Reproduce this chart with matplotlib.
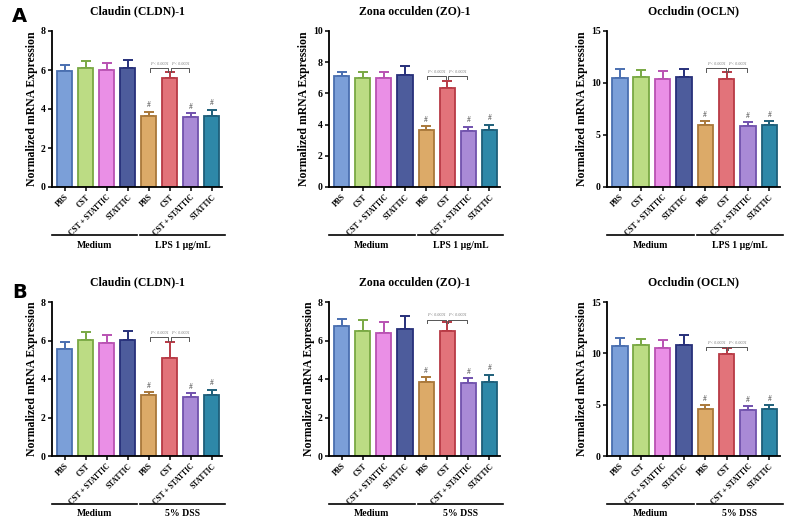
import numpy as np
import matplotlib
matplotlib.use("Agg")
import matplotlib.pyplot as plt
import matplotlib.transforms as mtransforms

plt.rcParams['font.family'] = ['Liberation Serif', 'DejaVu Serif']

# categories and group labels
conditions = ['PBS', 'CST', 'CST + STATTIC', 'STATTIC', 'PBS', 'CST', 'CST + STATTIC', 'STATTIC']
groups_A = ['Medium', 'LPS 1 μg/mL']
groups_B = ['Medium', '5% DSS']
titles = ['Claudin (CLDN)-1', 'Zona occulden (ZO)-1', 'Occludin (OCLN)']

# means and upper error bar ends (row A: LPS, row B: DSS)
cldn_A = [5.94, 6.10, 5.98, 6.10, 3.65, 5.57, 3.58, 3.66]
cldn_A_top = [6.28, 6.47, 6.37, 6.50, 3.87, 5.89, 3.80, 3.97]
zo_A = [7.10, 7.00, 7.00, 7.17, 3.66, 6.36, 3.60, 3.68]
zo_A_top = [7.39, 7.39, 7.39, 7.73, 3.92, 6.80, 3.86, 4.00]
ocln_A = [10.50, 10.60, 10.37, 10.60, 6.00, 10.43, 5.86, 6.00]
ocln_A_top = [11.34, 11.27, 11.14, 11.34, 6.35, 11.10, 6.25, 6.35]

cldn_B = [5.56, 6.02, 5.88, 6.04, 3.16, 5.09, 3.09, 3.19]
cldn_B_top = [5.92, 6.42, 6.28, 6.49, 3.33, 5.90, 3.26, 3.44]
zo_B = [6.77, 6.49, 6.37, 6.58, 3.85, 6.48, 3.78, 3.87]
zo_B_top = [7.12, 7.07, 6.94, 7.29, 4.11, 6.94, 4.05, 4.22]
ocln_B = [10.67, 10.77, 10.48, 10.77, 4.59, 9.93, 4.46, 4.59]
ocln_B_top = [11.45, 11.36, 11.29, 11.81, 4.95, 10.51, 4.85, 4.95]

# y-axis limits / ticks and bracket heights
ymax_A = [8, 10, 15]
ymax_B = [8, 8, 15]
ystep = [2, 2, 5]
bracket_A = [6.08, 7.12, 11.4]
bracket_B = [6.16, 7.08, 10.6]

face = ['#7b9fd8', '#bcdc84', '#ea8fe6', '#4d5c9c', '#dcaa68', '#e2737a', '#a98ad6', '#2e88a8']
edge = ['#4a6fb0', '#79a843', '#b952b2', '#27307a', '#a9783a', '#b83a45', '#7152ad', '#1e5f7a']

fig = plt.figure(figsize=(7.88, 5.21), dpi=100)

lefts = [52 / 788, 329 / 788, 607 / 788]
widths = [170 / 788, 171 / 788, 173 / 788]
bottoms = [(521 - 187) / 521, (521 - 456) / 521]
heights = [156 / 521, 154 / 521]

rows = [
    ([cldn_A, zo_A, ocln_A], [cldn_A_top, zo_A_top, ocln_A_top], bracket_A, groups_A, ymax_A),
    ([cldn_B, zo_B, ocln_B], [cldn_B_top, zo_B_top, ocln_B_top], bracket_B, groups_B, ymax_B),
]

x = np.arange(len(conditions))

for r, (vals_row, tops_row, brackets, grp, ymax) in enumerate(rows):
    for c in range(3):
        ax = fig.add_axes([lefts[c], bottoms[r], widths[c], heights[r]])
        vals = np.array(vals_row[c])
        tops = np.array(tops_row[c])
        ax.bar(x, vals, width=0.72, color=face, edgecolor=edge, linewidth=1.3, zorder=2)
        for i in range(len(x)):
            ax.errorbar(x[i], vals[i], yerr=[[0], [tops[i] - vals[i]]], fmt='none',
                        ecolor=edge[i], elinewidth=1.4, capsize=3.5, capthick=1.4, zorder=1)
        # significance marks
        span = ymax[c]
        for i in [4, 6, 7]:
            ax.text(x[i], tops[i] + 0.015 * span, '#', ha='center', va='bottom',
                    fontsize=5.5, color='#444444')
        by = brackets[c]
        tick = 0.02 * span
        for a, b in [(4, 5), (5, 6)]:
            xa, xb = x[a] + 0.05, x[b] - 0.05
            ax.plot([xa, xa, xb, xb], [by - tick, by, by, by - tick], color='#555555', lw=0.7,
                    clip_on=False)
            ax.text((xa + xb) / 2, by + 0.015 * span, 'P < 0.0001', ha='center', va='bottom',
                    fontsize=3, style='italic', color='#777777')

        ax.set_xlim(-0.6, 7.5)
        ax.set_ylim(0, ymax[c])
        ax.set_yticks(np.arange(0, ymax[c] + 0.1, ystep[c]))
        ax.set_xticks(x)
        ax.set_xticklabels(conditions, rotation=45, ha='right', rotation_mode='anchor',
                           fontsize=5.5, fontweight='bold')
        for lab in ax.get_yticklabels():
            lab.set_fontsize(7)
            lab.set_fontweight('bold')
        ax.spines['top'].set_visible(False)
        ax.spines['right'].set_visible(False)
        ax.spines['left'].set_linewidth(1.3)
        ax.spines['bottom'].set_linewidth(1.3)
        ax.tick_params(axis='both', length=3, width=1.1, pad=1.5)
        ax.set_ylabel('Normalized mRNA Expression', fontsize=8.5, fontweight='bold', labelpad=2)
        ax.set_title(titles[c], fontsize=8.5, fontweight='bold', pad=12)

        # group lines under tick labels
        trans = mtransforms.blended_transform_factory(ax.transData, ax.transAxes)
        for (x0, x1), name in zip([(-0.6, 3.45), (3.6, 7.65)], grp):
            ax.plot([x0, x1], [-0.31, -0.31], color='black', lw=1.2, transform=trans, clip_on=False)
            ax.text((x0 + x1) / 2, -0.375, name, transform=trans, ha='center', va='center',
                    fontsize=7, fontweight='bold')

fig.text(12 / 788, 1 - 17 / 521, 'A', fontsize=14, fontweight='bold', family='DejaVu Sans',
         ha='left', va='center')
fig.text(12 / 788, 1 - 293 / 521, 'B', fontsize=14, fontweight='bold', family='DejaVu Sans',
         ha='left', va='center')

fig.savefig('out.png', dpi=100)
